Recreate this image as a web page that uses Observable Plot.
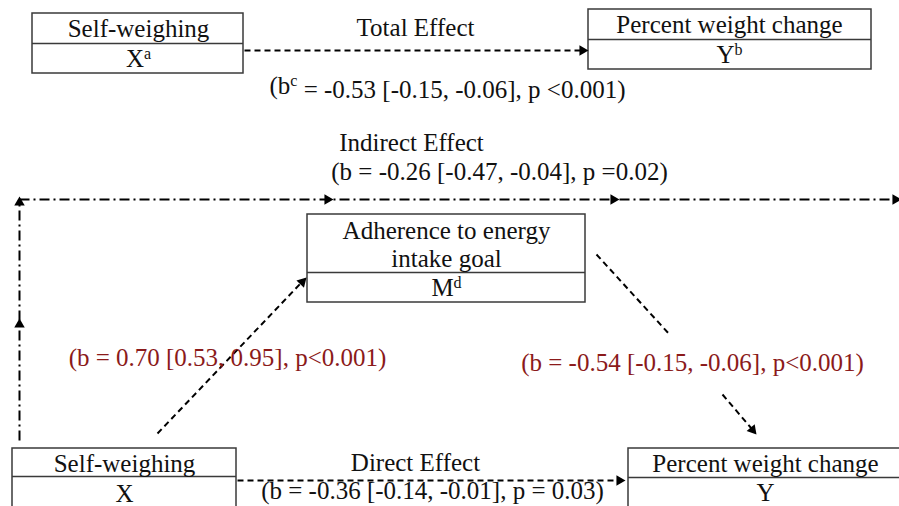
<!DOCTYPE html>
<html>
<head>
<meta charset="utf-8">
<script src="https://cdn.jsdelivr.net/npm/d3@7"></script>
<script src="https://cdn.jsdelivr.net/npm/@observablehq/plot@0.6"></script>
<style>
  html, body { margin: 0; padding: 0; background: #fff; }
  svg { display: block; }
  svg text { font-family: "Liberation Serif", "Times New Roman", serif !important; }
</style>
</head>
<body>
<div id="chart"></div>
<script>
// Diagram nodes (boxes in diagram units)
const boxes = [
  {id: "X_total", x1: 32, x2: 243, y1: 13, y2: 73, div: 43},
  {id: "Y_total", x1: 588, x2: 871, y1: 9, y2: 69, div: 39},
  {id: "M", x1: 307, x2: 585, y1: 214, y2: 302, div: 272},
  {id: "X", x1: 12, x2: 236, y1: 448, y2: 512, div: 476},
  {id: "Y", x1: 628, x2: 906, y1: 448, y2: 512, div: 477}
];

// Node labels
const nodeLabels = [
  {x: 138, y: 28, text: "Self-weighing"},
  {x: 138, y: 58, text: "X^a"},
  {x: 729, y: 24, text: "Percent weight change"},
  {x: 729, y: 54, text: "Y^b"},
  {x: 446, y: 230, text: "Adherence to energy"},
  {x: 446, y: 258, text: "intake goal"},
  {x: 446, y: 287, text: "M^d"},
  {x: 124, y: 463, text: "Self-weighing"},
  {x: 124, y: 493, text: "X"},
  {x: 765, y: 463, text: "Percent weight change"},
  {x: 765, y: 492, text: "Y"}
];

// Effect labels
const effectLabels = [
  {x: 415, y: 27, text: "Total Effect"},
  {x: 447, y: 85, text: "(b^c = -0.53 [-0.15, -0.06], p <0.001)"},
  {x: 411, y: 142, text: "Indirect Effect"},
  {x: 499, y: 171, text: "(b = -0.26 [-0.47, -0.04], p =0.02)"},
  {x: 415, y: 462, text: "Direct Effect"},
  {x: 432, y: 490, text: "(b = -0.36 [-0.14, -0.01], p = 0.03)"}
];

// Path coefficients (red)
const pathLabels = [
  {x: 227, y: 357, text: "(b = 0.70 [0.53, 0.95], p<0.001)"},
  {x: 692, y: 362, text: "(b = -0.54 [-0.15, -0.06], p<0.001)"}
];

// Dashed paths
const dashedLinks = [
  {x1: 244, y1: 50, x2: 581, y2: 50},
  {x1: 237, y1: 480, x2: 618, y2: 480},
  {x1: 157, y1: 433, x2: 301, y2: 282},
  {x1: 596, y1: 254, x2: 670, y2: 335},
  {x1: 722, y1: 394, x2: 751, y2: 428}
];

// Dash-dot (indirect) paths
const dashDotLinks = [
  {x1: 19, y1: 440, x2: 19, y2: 199},
  {x1: 19, y1: 199, x2: 899, y2: 199}
];

// Arrow heads: tip position and direction (degrees, 0 = up, 90 = right)
const heads = [
  {x: 588, y: 50, dir: 90},
  {x: 625, y: 480, dir: 90},
  {x: 306, y: 277, dir: 44},
  {x: 756, y: 434, dir: 140},
  {x: 19, y: 318, dir: 0},
  {x: 19, y: 196, dir: 0},
  {x: 333, y: 199, dir: 90},
  {x: 619, y: 199, dir: 90},
  {x: 901, y: 199, dir: 90}
];

const S = 6.05; // triangle tip offset for r = 5
const headPts = heads.map(h => {
  const a = h.dir * Math.PI / 180;
  return {x: h.x - S * Math.sin(a), y: h.y + S * Math.cos(a), dir: h.dir};
});

const font = "'Liberation Serif', 'Times New Roman', serif";
const FS = 25;

const chart = Plot.plot({
  width: 899,
  height: 506,
  margin: 0,
  x: {domain: [0, 899], range: [0, 899], axis: null},
  y: {domain: [0, 506], range: [0, 506], axis: null},
  style: {background: "#fff", fontFamily: font},
  marks: [
    Plot.rect(boxes, {x1: "x1", x2: "x2", y1: "y1", y2: "y2", fill: "#fff", stroke: "#3a3a3a", strokeWidth: 1.5}),
    Plot.ruleY(boxes, {y: "div", x1: "x1", x2: "x2", stroke: "#3a3a3a", strokeWidth: 1.5}),
    Plot.link(dashedLinks, {x1: "x1", y1: "y1", x2: "x2", y2: "y2", stroke: "#000", strokeWidth: 2, strokeDasharray: "6,4"}),
    Plot.link(dashDotLinks, {x1: "x1", y1: "y1", x2: "x2", y2: "y2", stroke: "#000", strokeWidth: 2, strokeDasharray: "10,4,2,4"}),
    Plot.dot(headPts, {x: "x", y: "y", rotate: "dir", symbol: "triangle2", r: 5, fill: "#000", stroke: "none"}),
    Plot.text(nodeLabels, {x: "x", y: "y", text: "text", fontSize: FS, fontFamily: font, fill: "#111"}),
    Plot.text(effectLabels, {x: "x", y: "y", text: "text", fontSize: FS, fontFamily: font, fill: "#111"}),
    Plot.text(pathLabels, {x: "x", y: "y", text: "text", fontSize: FS, fontFamily: font, fill: "#8b1a1a"})
  ]
});

// Render "^x" as a superscript
d3.select(chart).selectAll("text").each(function () {
  const t = this.textContent;
  const m = t.match(/^(.*?)\^(\w)(.*)$/);
  if (!m) return;
  const sel = d3.select(this);
  sel.text(null);
  sel.append("tspan").text(m[1]);
  sel.append("tspan").attr("dy", "-0.45em").attr("font-size", "16").text(m[2]);
  if (m[3]) sel.append("tspan").attr("dy", "0.45em").text(m[3]);
});

document.getElementById("chart").appendChild(chart);
</script>
</body>
</html>
